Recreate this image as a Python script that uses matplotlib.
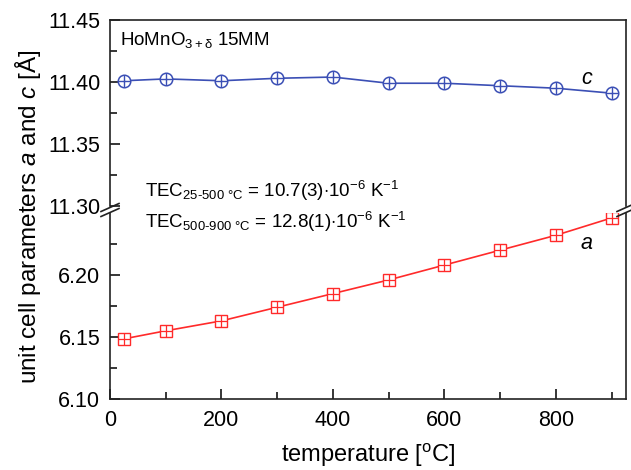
import numpy as np
import matplotlib.pyplot as plt

plt.rcParams['font.family'] = ['Liberation Sans', 'DejaVu Sans']
plt.rcParams['mathtext.fontset'] = 'custom'
plt.rcParams['mathtext.rm'] = 'Liberation Sans'
plt.rcParams['mathtext.it'] = 'Liberation Sans:italic'

# data
temperature = [25, 100, 200, 300, 400, 500, 600, 700, 800, 900]
c_param = [11.401, 11.4025, 11.401, 11.403, 11.404, 11.399, 11.399, 11.397, 11.395, 11.391]
a_param = [6.1485, 6.155, 6.163, 6.174, 6.185, 6.196, 6.208, 6.220, 6.232, 6.246]

top_ticks = [11.30, 11.35, 11.40, 11.45]
bottom_ticks = [6.10, 6.15, 6.20]
x_ticks = [0, 200, 400, 600, 800]

blue = '#3b4fb5'
red = '#ff2a2a'

W, H = 631, 470
fig = plt.figure(figsize=(W / 100, H / 100), dpi=100)

left, right = 110 / W, 626 / W
ax_top = fig.add_axes([left, 1 - 206 / H, right - left, (206 - 20) / H])
ax_bot = fig.add_axes([left, 1 - 399 / H, right - left, (399 - 213) / H])

for ax in (ax_top, ax_bot):
    ax.set_xlim(0, 926)
    ax.tick_params(direction='in', labelsize=15.5, length=7, width=1.1, top=False, right=False)
    ax.tick_params(which='minor', direction='in', length=5, width=1.1)
    ax.tick_params(axis='y', pad=7)
    for s in ax.spines.values():
        s.set_linewidth(1.2)
        s.set_color('#222222')

ax_top.spines['bottom'].set_visible(False)
ax_bot.spines['top'].set_visible(False)
ax_top.tick_params(axis='x', which='both', bottom=False, labelbottom=False)

ax_top.set_ylim(11.30, 11.45)
ax_top.set_yticks(top_ticks)
ax_top.set_yticks(np.arange(11.325, 11.45, 0.05), minor=True)
ax_top.set_yticklabels(['%.2f' % v for v in top_ticks])

ax_bot.set_ylim(6.10, 6.25)
ax_bot.set_yticks(bottom_ticks)
ax_bot.set_yticks([6.125, 6.175, 6.225], minor=True)
ax_bot.set_yticklabels(['%.2f' % v for v in bottom_ticks])
ax_bot.set_xticks(x_ticks)
ax_bot.set_xticks([100, 300, 500, 700, 900], minor=True)
ax_bot.tick_params(axis='x', pad=8)

# c series: circle with plus
ax_top.plot(temperature, c_param, color=blue, lw=1.2, marker='o', ms=9,
            mfc='white', mec=blue, mew=1.1, zorder=3)
ax_top.plot(temperature, c_param, ls='none', marker='+', ms=9, mec=blue, mew=1.0, zorder=4)

# a series: square with plus
ax_bot.plot(temperature, a_param, color=red, lw=1.2, marker='s', ms=8,
            mfc='white', mec=red, mew=1.0, zorder=3)
ax_bot.plot(temperature, a_param, ls='none', marker='+', ms=8, mec=red, mew=0.9, zorder=4)

ax_top.text(856, 11.403, 'c', fontsize=15.5, style='italic', ha='center', va='center')
ax_bot.text(856, 6.2258, 'a', fontsize=15.5, style='italic', ha='center', va='center')

fig.text(120 / W, 1 - 45 / H, r'HoMnO$_{\mathregular{3+\delta}}$ 15MM',
         fontsize=13.5, ha='left', va='baseline')

fig.text(145 / W, 1 - 197 / H,
         r'TEC$_{\mathregular{25\text{-}500\ °C}}$ = 10.7(3)$\cdot$10$^{\mathregular{-6}}$ K$^{\mathregular{-1}}$',
         fontsize=13.5, ha='left', va='baseline')
fig.text(145 / W, 1 - 228 / H,
         r'TEC$_{\mathregular{500\text{-}900\ °C}}$ = 12.8(1)$\cdot$10$^{\mathregular{-6}}$ K$^{\mathregular{-1}}$',
         fontsize=13.5, ha='left', va='baseline')

# break marks
for xb in (110, 626):
    for dy in (-2.5, 2.5):
        y0 = 210 + dy
        fig.add_artist(plt.Line2D([(xb - 9) / W, (xb + 9) / W],
                                  [1 - (y0 + 4) / H, 1 - (y0 - 4) / H],
                                  color='#222222', lw=1.2, transform=fig.transFigure))

fig.text(28 / W, 1 - 217 / H, r'unit cell parameters $a$ and $c$ [Å]', rotation=90,
         fontsize=17.5, ha='center', va='center')
fig.text(368 / W, 1 - 462 / H, r'temperature [$^{\mathregular{o}}$C]', fontsize=17,
         ha='center', va='baseline')

fig.savefig('out.png', dpi=100)
